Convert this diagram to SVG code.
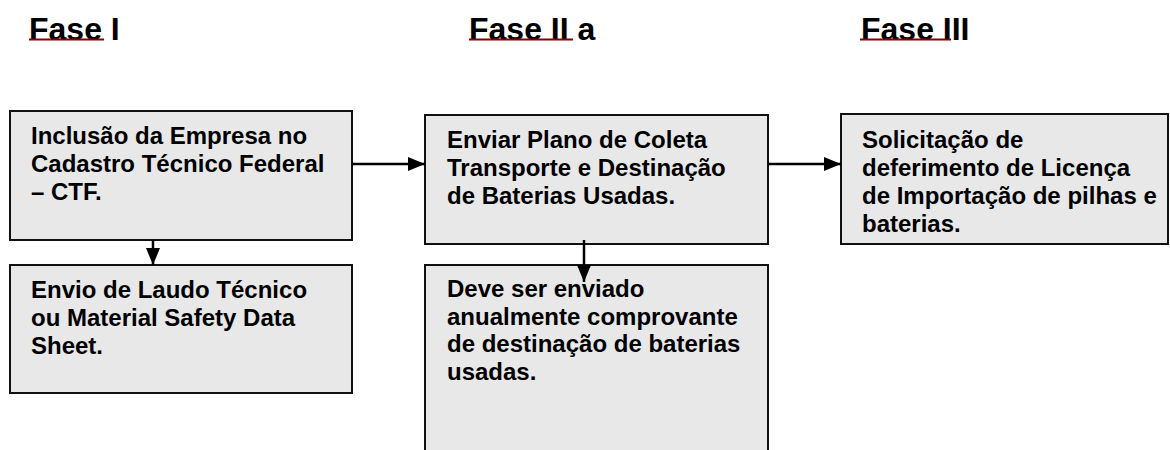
<svg xmlns="http://www.w3.org/2000/svg" width="1170" height="450" viewBox="0 0 1170 450">
<style>
.title{font-family:"Liberation Sans",Arial,sans-serif;font-weight:bold;font-size:32px;fill:#000}
.box{fill:#e8e8e8;stroke:#111;stroke-width:2}
.txt{font-family:"Liberation Sans",Arial,sans-serif;font-weight:bold;font-size:24px;fill:#000}
.conn{stroke:#000;stroke-width:2.5;fill:none}
.squig{stroke:#800000;stroke-width:2.2}
</style>
<defs>
<marker id="ah" viewBox="0 0 17 14" refX="17" refY="7" markerWidth="17" markerHeight="14" markerUnits="userSpaceOnUse" orient="auto">
<path d="M0,0 L17,7 L0,14 z" fill="#000"/>
</marker>
</defs>
<g id="titles">
<text class="title" x="29" y="40">Fase I</text>
<text class="title" x="469" y="40">Fase II a</text>
<text class="title" x="861" y="40">Fase III</text>
<line class="squig" x1="29" y1="39.5" x2="104" y2="39.5"/>
<line class="squig" x1="469" y1="39.5" x2="573" y2="39.5"/>
<line class="squig" x1="860" y1="39.5" x2="951" y2="39.5"/>
</g>
<g id="node-ctf">
<rect class="box" x="10" y="111" width="342" height="129"/>
<text class="txt"><tspan x="31" y="144">Inclusão da Empresa no</tspan><tspan x="31" y="172">Cadastro Técnico Federal</tspan><tspan x="31" y="200">– CTF.</tspan></text>
</g>
<g id="node-laudo">
<rect class="box" x="10" y="265" width="342" height="128"/>
<text class="txt"><tspan x="31" y="298">Envio de Laudo Técnico</tspan><tspan x="31" y="326">ou Material Safety Data</tspan><tspan x="31" y="354">Sheet.</tspan></text>
</g>
<g id="node-plano">
<rect class="box" x="425" y="115" width="343" height="129"/>
<text class="txt"><tspan x="447" y="148">Enviar Plano de Coleta</tspan><tspan x="447" y="176">Transporte e Destinação</tspan><tspan x="447" y="204">de Baterias Usadas.</tspan></text>
</g>
<g id="node-anual">
<rect class="box" x="425" y="265" width="343" height="200"/>
<text class="txt"><tspan x="447" y="297">Deve ser enviado</tspan><tspan x="447" y="325">anualmente comprovante</tspan><tspan x="447" y="352">de destinação de baterias</tspan><tspan x="447" y="380">usadas.</tspan></text>
</g>
<g id="node-licenca">
<rect class="box" x="841" y="114" width="327" height="130"/>
<text class="txt"><tspan x="862" y="148">Solicitação de</tspan><tspan x="862" y="176">deferimento de Licença</tspan><tspan x="862" y="204">de Importação de pilhas e</tspan><tspan x="862" y="232">baterias.</tspan></text>
</g>
<g id="connectors">
<line class="conn" x1="352" y1="164" x2="425" y2="164" marker-end="url(#ah)"/>
<line class="conn" x1="768" y1="164" x2="841" y2="164" marker-end="url(#ah)"/>
<line class="conn" x1="153" y1="240" x2="153" y2="265" marker-end="url(#ah)"/>
<line class="conn" x1="584" y1="240" x2="584" y2="282" marker-end="url(#ah)"/>
</g>
</svg>
